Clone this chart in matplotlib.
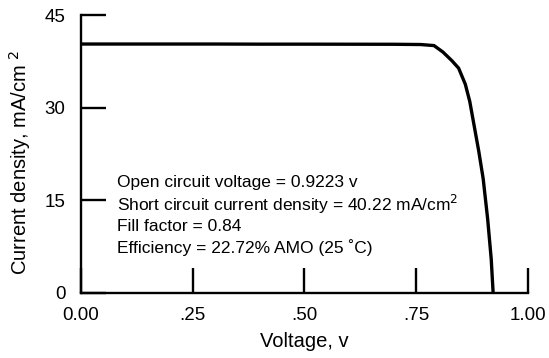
import matplotlib
matplotlib.use("Agg")
import matplotlib.pyplot as plt

plt.rcParams['font.family'] = ['Liberation Sans', 'DejaVu Sans']

voltage = [0.00, 0.10, 0.20, 0.30, 0.40, 0.50, 0.60, 0.70, 0.76, 0.79, 0.81, 0.83, 0.845, 0.86, 0.87, 0.88, 0.89, 0.90, 0.91, 0.918, 0.9223]
current = [40.3, 40.3, 40.3, 40.3, 40.28, 40.28, 40.27, 40.26, 40.22, 40.05, 39.0, 37.6, 36.4, 33.8, 31.0, 27.0, 23.0, 18.5, 12.0, 5.5, 0.0]

x_ticks = [0.0, 0.25, 0.50, 0.75, 1.00]
x_tick_labels = ["0.00", ".25", ".50", ".75", "1.00"]
y_ticks = [0, 15, 30, 45]
y_tick_labels = ["0", "15", "30", "45"]

annotation_lines = [
    "Open circuit voltage = 0.9223 v",
    "Short circuit current density = 40.22 mA/cm$^2$",
    "Fill factor = 0.84",
    "Efficiency = 22.72% AMO (25 \u02daC)",
]

fig = plt.figure(figsize=(5.49, 3.58), dpi=100)
ax = fig.add_axes([0.1475, 0.1816, 0.814, 0.7765])
ax.plot(voltage, current, color='black', lw=2.4, solid_capstyle='round')
ax.set_xlim(0, 1.0)
ax.set_ylim(0, 45)
ax.set_xticks(x_ticks)
ax.set_xticklabels(x_tick_labels)
ax.set_yticks(y_ticks)
ax.set_yticklabels(y_tick_labels)
for s in ['top', 'right']:
    ax.spines[s].set_visible(False)
for s in ['left', 'bottom']:
    ax.spines[s].set_linewidth(1.7)
ax.tick_params(direction='in', length=18, width=1.7, labelsize=13.5)
ax.tick_params(axis='x', pad=10)
ax.tick_params(axis='y', pad=11)
ax.set_xlabel("Voltage, v", fontsize=14.5, labelpad=6)
ax.set_ylabel("Current density, mA/cm$^{\\ 2}$", fontsize=14.5)
ax.yaxis.set_label_coords(-0.108, 0.47)

y0 = 0.396
for i, line in enumerate(annotation_lines):
    ax.text(0.08, y0 - i * 0.078, line, transform=ax.transAxes, fontsize=12.5, va='center', ha='left')

fig.savefig("out.png", dpi=100)
